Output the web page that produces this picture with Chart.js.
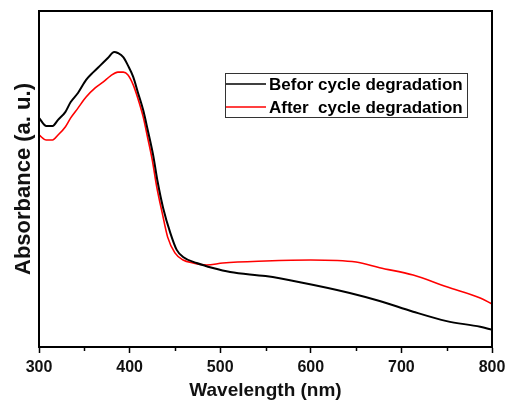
<!DOCTYPE html>
<html>
<head>
<meta charset="utf-8">
<script src="https://cdn.jsdelivr.net/npm/chart.js@4.4.0/dist/chart.umd.min.js"></script>
<style>
  html, body { margin: 0; padding: 0; background: #fff; }
  canvas { display: block; }
</style>
</head>
<body>
<canvas id="uv-chart" width="509" height="400"></canvas>
<script>
const SERIES_NAMES = ['Befor cycle degradation', 'After  cycle degradation'];
const SERIES_COLORS = ['#000000', '#ff0000'];

// wavelength (nm) / absorbance (a. u.)
const WAVE_BEFORE = [300, 308, 315, 321, 329, 335, 343, 352, 360, 368, 376, 383, 387, 393, 398, 404, 409, 415, 420, 426, 431, 437, 445, 452, 459, 474, 492, 511, 550, 588, 643, 676, 713, 750, 787, 800];
const ABS_BEFORE  = [0.682, 0.658, 0.658, 0.676, 0.699, 0.729, 0.756, 0.795, 0.818, 0.839, 0.860, 0.878, 0.875, 0.863, 0.839, 0.804, 0.759, 0.705, 0.646, 0.571, 0.491, 0.414, 0.339, 0.289, 0.268, 0.250, 0.235, 0.223, 0.211, 0.193, 0.161, 0.137, 0.105, 0.077, 0.060, 0.051];

const WAVE_AFTER = [300, 308, 315, 321, 329, 335, 343, 352, 362, 371, 379, 387, 393, 398, 404, 409, 415, 420, 425, 430, 436, 442, 450, 459, 470, 485, 503, 550, 600, 650, 676, 713, 750, 787, 800];
const ABS_AFTER  = [0.631, 0.616, 0.616, 0.631, 0.655, 0.682, 0.711, 0.744, 0.771, 0.789, 0.807, 0.818, 0.818, 0.810, 0.780, 0.741, 0.685, 0.622, 0.557, 0.476, 0.399, 0.327, 0.280, 0.259, 0.250, 0.244, 0.250, 0.256, 0.259, 0.253, 0.236, 0.214, 0.179, 0.146, 0.128];

const X_TICKS = [300, 400, 500, 600, 700, 800];
const MINOR_TICKS = [350, 450, 550, 650, 750];

const FONT = "'Liberation Sans', Arial, sans-serif";

function toPoints(xs, ys) {
    return xs.map((x, i) => ({ x, y: ys[i] }));
}

// full box round the plot + short minor ticks under the x axis
const frameAndMinorTicks = {
    id: 'frameAndMinorTicks',
    afterDraw(chart) {
        const { ctx, chartArea: a } = chart;
        const xs = chart.scales.x;
        ctx.save();
        ctx.strokeStyle = '#000';
        ctx.lineWidth = 2;
        ctx.strokeRect(a.left, a.top, a.right - a.left, a.bottom - a.top);
        ctx.lineWidth = 1.5;
        MINOR_TICKS.forEach(v => {
            const px = Math.round(xs.getPixelForValue(v)) + 0.5;
            ctx.beginPath();
            ctx.moveTo(px, a.bottom);
            ctx.lineTo(px, a.bottom + 4);
            ctx.stroke();
        });
        ctx.restore();
    }
};

// boxed legend inside the plot, upper right
const boxedLegend = {
    id: 'boxedLegend',
    afterDraw(chart) {
        const { ctx } = chart;
        const box = { left: 225, top: 73, right: 467, bottom: 117 };
        const rowsY = [84, 107];
        ctx.save();
        ctx.fillStyle = '#fff';
        ctx.fillRect(box.left, box.top, box.right - box.left, box.bottom - box.top);
        ctx.strokeStyle = '#333';
        ctx.lineWidth = 1;
        ctx.strokeRect(box.left + 0.5, box.top + 0.5, box.right - box.left, box.bottom - box.top);
        ctx.font = `bold 17px ${FONT}`;
        ctx.textBaseline = 'middle';
        ctx.textAlign = 'left';
        chart.data.datasets.forEach((ds, i) => {
            const y = rowsY[i];
            ctx.strokeStyle = ds.borderColor;
            ctx.lineWidth = 1.5;
            ctx.beginPath();
            ctx.moveTo(226, y);
            ctx.lineTo(266, y);
            ctx.stroke();
            ctx.fillStyle = '#000';
            ctx.fillText(ds.label, 269, y + 1);
        });
        ctx.restore();
    }
};

new Chart(document.getElementById('uv-chart').getContext('2d'), {
    type: 'line',
    data: {
        datasets: [
            {
                label: SERIES_NAMES[0],
                data: toPoints(WAVE_BEFORE, ABS_BEFORE),
                borderColor: SERIES_COLORS[0],
                borderWidth: 2,
                pointRadius: 0,
                cubicInterpolationMode: 'monotone',
            },
            {
                label: SERIES_NAMES[1],
                data: toPoints(WAVE_AFTER, ABS_AFTER),
                borderColor: SERIES_COLORS[1],
                borderWidth: 1.6,
                pointRadius: 0,
                cubicInterpolationMode: 'monotone',
            },
        ],
    },
    options: {
        responsive: false,
        animation: false,
        layout: { padding: { top: 11, right: 17, left: 0, bottom: 0 } },
        plugins: {
            legend: { display: false },
            tooltip: { enabled: false },
        },
        scales: {
            x: {
                type: 'linear',
                min: 300,
                max: 800,
                afterBuildTicks: s => { s.ticks = X_TICKS.map(v => ({ value: v })); },
                afterFit: s => { s.height = 53; s.paddingLeft = 0; s.paddingRight = 0; },
                grid: { drawOnChartArea: false, tickLength: 6, tickColor: '#000', tickWidth: 1.5 },
                border: { display: true, color: '#000', width: 2 },
                ticks: {
                    color: '#111',
                    padding: 5,
                    maxRotation: 0,
                    font: { family: FONT, size: 16, weight: 'bold' },
                },
                title: {
                    display: true,
                    text: 'Wavelength (nm)',
                    color: '#111',
                    padding: { top: 0, bottom: 0 },
                    font: { family: FONT, size: 19, weight: 'bold', lineHeight: 1 },
                },
            },
            y: {
                min: 0,
                max: 1,
                afterFit: s => { s.width = 39; },
                grid: { display: false },
                border: { display: true, color: '#000', width: 2 },
                ticks: { display: false },
                title: {
                    display: true,
                    text: 'Absorbance (a. u.)',
                    color: '#111',
                    padding: { top: 13, bottom: 0 },
                    font: { family: FONT, size: 22, weight: 'bold', lineHeight: 1 },
                },
            },
        },
    },
    plugins: [frameAndMinorTicks, boxedLegend],
});
</script>
</body>
</html>
